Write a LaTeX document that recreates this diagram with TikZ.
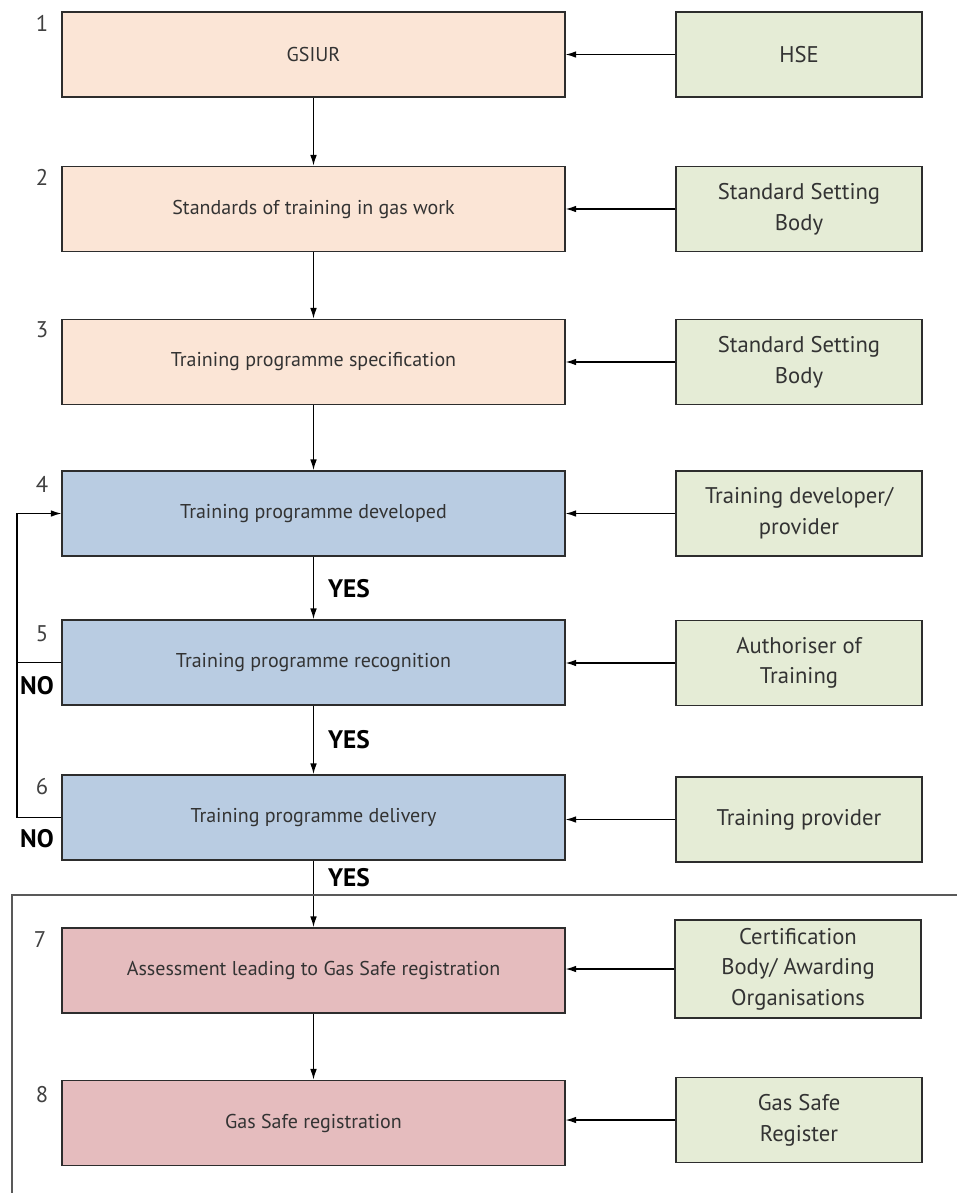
\documentclass[tikz,border=0pt]{standalone}
\usepackage{fontspec}
\setmainfont{PT Sans}
\usetikzlibrary{arrows.meta}

\definecolor{peach}{RGB}{251,229,214}
\definecolor{sage}{RGB}{229,236,214}
\definecolor{steel}{RGB}{185,204,226}
\definecolor{rose}{RGB}{229,188,190}
\definecolor{edgegray}{RGB}{45,45,45}

\begin{document}
\begin{tikzpicture}[x=0.75pt,y=-0.75pt]

      \useasboundingbox (0,0) rectangle (957,1193);

      \begin{scope}[every node/.style={draw=edgegray,line width=1.1pt,align=center,
          minimum width=377pt,minimum height=64pt,inner sep=2pt,text=black!80,
          font=\fontsize{15}{18}\selectfont}]
        \node[fill=peach] (1)  at (313.5,54.5)  {GSIUR};
        \node[fill=peach] (2)  at (313.5,209)   {Standards of training in gas work};
        \node[fill=peach] (3)  at (313.5,362)   {Training programme specification};
        \node[fill=steel] (4)  at (313.5,513.5) {Training programme developed};
        \node[fill=steel] (5)  at (313.5,662.5) {Training programme recognition};
        \node[fill=steel] (6)  at (313.5,817.5) {Training programme delivery};
        \node[fill=rose]  (7)  at (313.5,970.5) {Assessment leading to Gas Safe registration};
        \node[fill=rose]  (8)  at (313.5,1123)  {Gas Safe registration};
      \end{scope}

      \begin{scope}[every node/.style={draw=edgegray,fill=sage,line width=1.1pt,align=center,
          minimum width=184.5pt,minimum height=64pt,inner sep=2pt,text=black!80,
          font=\fontsize{17}{23}\selectfont}]
        \node (b1)  at (799,54.5)  {HSE};
        \node (b2)  at (799,209)   {Standard Setting\\Body};
        \node (b3)  at (799,362)   {Standard Setting\\Body};
        \node (b4)  at (799,513.5) {Training developer/\\provider};
        \node (b5)  at (799,663)   {Authoriser of\\Training};
        \node (b6)  at (799,819.5) {Training provider};
        \node[minimum height=73.5pt] (b7)  at (798,969) {Certification\\Body/ Awarding\\Organisations};
        \node (b8)  at (799,1120)  {Gas Safe\\Register};
      \end{scope}

      % step numbers
      \begin{scope}[every node/.style={font=\fontsize{17}{17}\selectfont,text=black!75}]
        \node (n1) at (42,23)   {1};
        \node (n2) at (42,177)  {2};
        \node (n3) at (42,330)  {3};
        \node (n4) at (42,484)  {4};
        \node (n5) at (42,634)  {5};
        \node (n6) at (42,787)  {6};
        \node (n7) at (40,940)  {7};
        \node (n8) at (42,1095) {8};
      \end{scope}

      \begin{scope}[every node/.style={font=\bfseries\fontsize{19}{19}\selectfont}]
        \node (y4) at (349,589) {YES};
        \node (y5) at (349,740) {YES};
        \node (y6) at (349,878) {YES};
        \node (no5) at (37,686) {NO};
        \node (no6) at (37,839) {NO};
      \end{scope}

      \begin{scope}[every edge/.style={draw=black,line width=0.9pt,-{Latex[length=8pt,width=5pt]}}]
        \path (1)  edge (2);
        \path (2)  edge (3);
        \path (3)  edge (4);
        \path (4)  edge (5);
        \path (5)  edge (6);
        \path (6)  edge (7);
        \path (7)  edge (8);
        \foreach \i in {1,...,8}
          \path (b\i) edge (b\i -| \i.east);
      \end{scope}

      % feedback loop
      \coordinate (loop) at (17,0);
      \draw[line width=0.9pt,-{Latex[length=8pt,width=5pt]}]
        (6.west) -- (6.west -| loop) -- (4.west -| loop) -- (4.west);
      \draw[line width=0.9pt] (5.west) -- (5.west -| loop);

      % assessment frame
      \draw[black!65,line width=1.1pt] (957,895) -- (12,895) -- (12,1193);

    \end{tikzpicture}
\end{document}
